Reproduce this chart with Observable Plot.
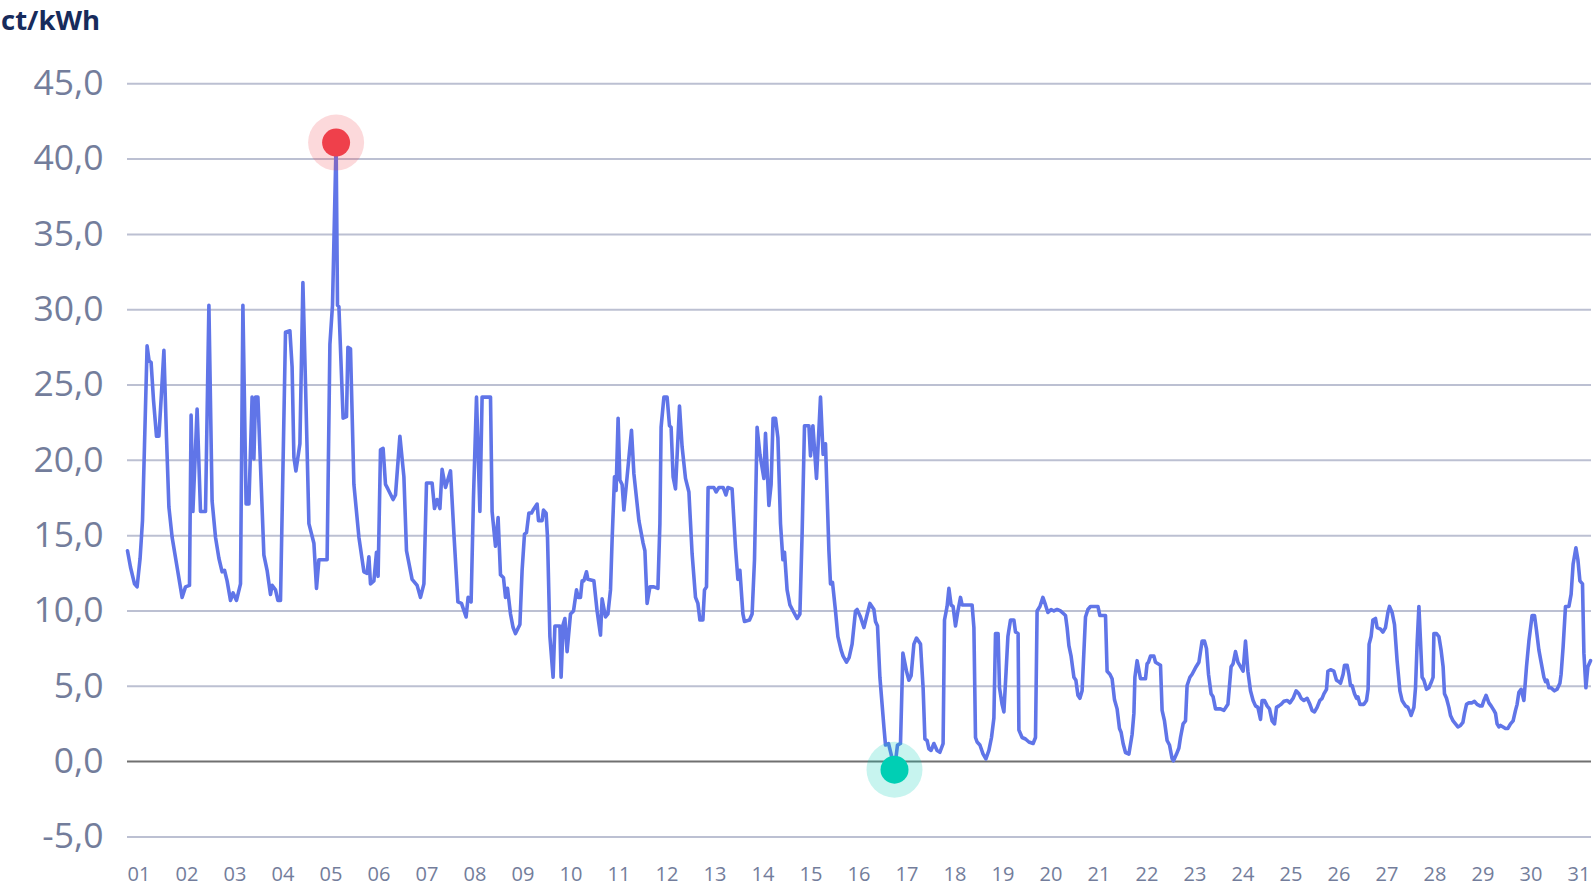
<!DOCTYPE html>
<html>
<head>
<meta charset="utf-8">
<script src="https://cdn.jsdelivr.net/npm/d3@7"></script>
<script src="https://cdn.jsdelivr.net/npm/@observablehq/plot@0.6"></script>
<style>
  html, body { margin: 0; padding: 0; background: #fff; overflow: hidden; }
  #title { height: 40px; line-height: 40px; padding-left: 1px; font-family: "Open Sans", sans-serif; font-weight: 700; font-size: 27.5px; color: #172b5c; }
  #chart svg { display: block; }
</style>
</head>
<body>
<div id="title">ct/kWh</div>
<div id="chart"></div>
<script>
// Hour offset since 01 00:00 and price in ct/kWh
const hours = [0,1.5,3.5,4.8,6.3,7.5,8.5,9.8,10.8,11.8,13,14.5,15.7,17,18.2,19.5,20.7,22.3,24.8,27.3,29,31,31.8,32.7,34.8,36.5,39,40.7,42.3,44,45.7,47.3,48.5,49.8,51.5,52.8,54.5,56.5,57.7,59.3,60.7,62.3,63.2,64,65.2,68.2,69.8,71.5,72.3,74,75.2,76.5,79,81.2,82.3,83.2,84.2,86.2,87.7,89,90.7,93.2,94.5,95.7,99.8,101.2,102.5,104.3,105,105.7,107.8,109.5,110.2,111.5,113.2,115.7,118.2,119.8,120.7,121.5,123.2,124.5,125.3,126.5,127.8,129,130.2,132.8,134,136.2,138.2,139.5,142.3,144.8,146.5,148.2,149.5,152.3,153.5,154.8,156.2,157.3,159,161.5,163.3,165.2,167,169.3,170.3,171.8,173,174.5,176.2,177.3,181.5,182.3,184,185.3,186.5,188,189,190,191.5,192.8,194,196.2,197.3,198.5,199.5,200.7,202,202.8,204.8,205.5,207.3,208,209.3,210,211.2,212.8,213.7,216.2,216.8,217.8,218.7,219.8,221.5,223,224.5,225.3,226.5,227.3,228.2,229.5,230.2,233.2,234.8,236.5,237.3,239,240.2,241.5,242.3,243.5,244.3,245.3,246.2,247.3,248.2,249.8,252,253.2,255.7,257.8,258.7,259.8,261.2,263.2,265.2,266.2,266.8,268.2,269.8,271,271.8,272.8,274,276,277.3,279,280.7,282.3,284,285.2,286.2,287.7,288.5,289.5,290.3,293.2,294.3,295.7,297.8,299.2,300.2,302.3,304,305.2,306.2,307.7,308.5,311,312.3,313.5,314.8,316.2,318.2,319,320.7,321.8,322.8,324,325.2,326.5,327.7,328.5,329.8,331.2,333.2,334.8,336.2,337.3,338.5,340.7,341.5,342.7,344.5,346.5,347.8,349,350.7,351.5,352.5,354,355.2,356.8,357.8,359.5,360.8,362.3,364,364.8,366.5,368.2,369.5,371.2,373.2,374,375,376.2,378.2,379,380.5,381.8,383.5,385,386.5,387.7,389.5,390.7,391.8,393.2,394.5,396.5,397.8,398.7,399.8,400.7,401.8,403.2,404.8,406.2,407.8,408.5,409.8,410.7,411.8,412.8,414,415.2,416.5,417.3,422.3,423.2,424,424.8,426.2,427.8,429.2,430.7,432,433.2,434,435.3,436,437.3,438.2,439.3,440.2,441.5,443.2,444,445.3,445.7,447.3,449,450.7,452.8,454,454.8,456.2,457.7,459,460.2,461.8,463.2,464.8,466.5,468.2,469,469.8,470.7,471.8,473.2,474.2,475.2,476.2,477.3,479,480.2,481.5,485.2,486.2,489,489.8,491.2,492.3,493.5,494.8,496,496.8,497.8,499,500.7,502.3,503.2,503.7,504.8,506.5,509,509.8,510.5,511.5,513.2,514,516.5,517.3,518.5,519.8,521,522.3,523,524.5,525.7,526.5,527.8,529,529.8,531.2,532.3,534.3,535.7,537.3,538.5,539.5,540.5,541.8,542.8,544,546.5,548.2,550.2,551.8,552.8,554,555.2,556.5,557.8,559,560.2,561.5,562.8,564,565.2,566.5,567.3,568.5,569.8,571,572.3,573.5,574.5,575.7,576.8,578.2,579.8,581.2,582.8,584.3,585.7,586.8,588.2,589.8,591.2,592.3,593.5,594.8,596.2,597.3,598.2,599.5,600.2,601.5,603.2,604.5,605.7,606.5,607.8,608.5,609.8,610.7,611.5,612.3,613.5,614.5,615.2,616.2,618.2,619.5,620.3,620.8,621.8,622.7,624,624.8,626.5,627.7,629,630.2,631,632.3,633.5,634.8,636.2,637.3,639,640.2,641.2,641.8,643.2,644,644.8,645.7,646.5,647.3,648.2,649.5,650.7,652,652.8,653.2,654.5,655.7,656.8,657.8,658.5,659.5,660.7,661.5,662.8,664,665.2,666.5,667.7,668.5,669.5,670.7,672.3,673.5,674.8,676.2,677.3,678.2,679.3,680.7,681.8,683.2,684,684.8,685.7,686.5,687.8,689,690.2,691.5,692.8,694,694.8,695.7,696.8,698.2,699.5,700.7,702.3,703.5,704.5,705.7,706.8,708.2,709,709.8,710.7,711.8,713.5,714.8,716.2,716.8,717.8,719,720.7,721.8,722.8,724.2,725.2,726.2,727.5,728.2,729.2,730.2,731.5];
const prices = [14.0,12.9,11.8,11.6,13.5,16.0,21.0,27.6,26.6,26.5,24.0,21.6,21.6,24.5,27.3,21.5,16.9,14.9,12.9,10.9,11.6,11.7,23.0,16.6,23.4,16.6,16.6,30.3,17.3,14.9,13.5,12.6,12.7,12.0,10.7,11.2,10.7,11.8,30.3,17.1,17.1,24.2,20.1,24.2,24.2,13.7,12.7,11.1,11.7,11.4,10.7,10.7,28.5,28.6,26.2,20.2,19.3,21.1,31.8,25.1,15.8,14.5,11.5,13.4,13.4,27.7,30.3,41.1,30.3,30.2,22.8,22.9,27.5,27.4,18.4,14.9,12.6,12.5,13.6,11.8,12.0,13.9,12.3,20.7,20.8,18.4,18.1,17.4,17.7,21.6,18.9,14.0,12.1,11.7,10.9,11.8,18.5,18.5,16.8,17.4,16.8,19.4,18.2,19.3,14.9,10.6,10.5,9.6,10.9,10.6,17.6,24.2,16.6,24.2,24.2,16.6,14.3,16.2,12.4,12.2,10.9,11.5,9.8,8.9,8.5,9.1,12.7,15.1,15.2,16.5,16.5,16.7,17.1,16.0,16.0,16.7,16.5,14.9,8.3,5.6,9.0,9.0,5.6,9.1,9.5,7.3,9.8,10.0,11.4,10.9,10.9,12.0,12.0,12.6,12.1,12.0,10.0,8.4,10.8,9.6,9.8,11.4,14.7,18.9,18.0,22.8,18.7,18.4,16.7,18.9,22.0,19.1,16.0,14.5,14.0,10.5,11.6,11.6,11.5,15.8,22.2,24.2,24.2,22.3,22.2,18.9,18.1,23.6,20.9,18.8,17.9,13.8,10.9,10.5,9.4,9.4,11.4,11.6,18.2,18.2,17.9,18.2,18.2,17.7,18.2,18.1,14.2,12.1,12.7,9.8,9.3,9.4,9.8,13.4,22.2,20.4,18.8,21.8,17.0,18.4,22.8,22.8,21.5,15.8,13.4,13.9,11.4,10.4,9.9,9.5,9.8,15.1,22.3,22.3,20.3,22.3,18.8,24.2,20.4,21.1,14.0,11.8,11.9,10.0,8.3,7.4,7.0,6.6,6.9,7.8,10.0,10.1,9.6,8.9,9.6,10.5,10.1,9.3,9.0,5.6,2.3,1.1,1.2,0.5,-0.54,1.1,1.2,7.2,6.0,5.4,5.7,7.8,8.2,7.8,4.9,1.5,1.4,0.85,0.74,1.2,0.74,0.62,1.2,9.4,10.3,11.5,10.4,10.3,9.0,10.0,10.9,10.4,10.4,8.9,1.6,1.3,1.1,0.5,0.18,0.74,1.6,2.9,8.5,8.5,4.9,3.8,3.3,6.0,8.3,9.4,9.4,8.6,8.5,2.1,1.6,1.5,1.3,1.2,1.6,10.0,10.3,10.9,10.4,9.9,10.1,10.0,10.1,10.0,9.8,9.7,8.9,7.7,7.0,5.6,5.4,4.4,4.2,4.7,9.6,10.1,10.3,10.3,9.7,9.7,6.0,5.8,5.5,4.1,3.5,2.2,1.95,1.2,0.6,0.5,1.8,3.2,5.6,6.7,5.5,5.5,6.5,6.6,7.0,7.0,6.6,6.4,3.4,2.7,1.4,1.1,0.2,0.05,0.5,0.9,1.6,2.5,2.7,5.05,5.6,5.8,6.3,6.6,8.0,8.0,7.5,5.8,4.5,4.3,3.5,3.5,3.4,3.8,6.3,6.5,7.3,6.6,6.3,6.0,8.0,6.0,4.7,4.06,3.7,3.6,2.8,4.06,4.06,3.7,3.5,2.7,2.5,3.6,3.7,3.8,4.0,4.06,3.9,4.2,4.7,4.5,4.2,4.06,4.2,3.8,3.4,3.3,3.6,4.06,4.2,4.5,4.8,6.0,6.1,6.0,5.4,5.3,5.2,5.8,6.4,6.4,5.8,5.05,5.05,4.5,4.2,4.3,3.8,3.8,4.06,4.8,7.8,8.3,9.4,9.5,8.9,8.8,8.6,8.9,9.9,10.3,9.9,9.1,6.7,4.7,4.06,3.7,3.6,3.3,3.06,3.6,4.9,7.8,10.3,8.0,5.6,5.4,4.8,4.9,5.3,5.6,8.5,8.5,8.3,7.4,6.3,4.5,4.2,3.6,3.06,2.7,2.5,2.3,2.4,2.6,3.2,3.8,3.9,3.9,4.0,3.8,3.7,3.7,4.06,4.4,3.9,3.7,3.4,3.2,2.5,2.3,2.4,2.3,2.2,2.2,2.5,2.7,3.4,3.8,4.6,4.8,4.06,6.3,8.0,9.7,9.7,8.7,7.4,6.6,5.6,5.3,5.4,4.9,4.9,4.7,4.8,5.2,5.8,7.6,10.3,10.3,11.1,13.1,14.2,13.4,12.0,11.8,7.2,4.9,6.3,6.7];
const dayLabels = ["01","02","03","04","05","06","07","08","09","10","11","12","13","14","15","16","17","18","19","20","21","22","23","24","25","26","27","28","29","30","31"];
const yTicks = [-5, 0, 5, 10, 15, 20, 25, 30, 35, 40, 45];

const data = hours.map((h, i) => ({h, v: prices[i]}));
const maxPt = d3.greatest(data, d => d.v);
const minPt = d3.least(data, d => d.v);
const dayTicks = dayLabels.map((_, i) => i * 24);
const fmt = d => d.toFixed(1).replace(".", ",");

const chart = Plot.plot({
  width: 1596,
  height: 848,
  marginLeft: 127,
  marginRight: 5,
  marginTop: 43.3,
  marginBottom: 51.6,
  style: {fontFamily: "'Open Sans', sans-serif", background: "#fff"},
  x: {domain: [0, 732]},
  y: {domain: [-5, 45]},
  marks: [
    Plot.ruleY(yTicks.filter(t => t !== 0), {stroke: "#bcc0d2", strokeWidth: 2}),
    Plot.ruleY([0], {stroke: "#707070", strokeWidth: 2}),
    Plot.axisY({ticks: yTicks, tickSize: 0, tickPadding: 24, tickFormat: fmt, fontSize: 35.5, color: "#737d9b", label: null}),
    Plot.axisX({ticks: dayTicks, tickSize: 0, tickPadding: 30, tickFormat: (d, i) => dayLabels[i], textAnchor: "start", fontSize: 20, color: "#737d9b", label: null}),
    Plot.line(data, {x: "h", y: "v", stroke: "#6075e8", strokeWidth: 3.6, strokeLinejoin: "round", strokeLinecap: "round"}),
    Plot.dot([maxPt], {x: "h", y: "v", r: 28, fill: "#ef404b", fillOpacity: 0.2, stroke: "none"}),
    Plot.dot([maxPt], {x: "h", y: "v", r: 14, fill: "#ef404b", stroke: "none"}),
    Plot.dot([minPt], {x: "h", y: "v", r: 28, fill: "#00cfb4", fillOpacity: 0.22, stroke: "none"}),
    Plot.dot([minPt], {x: "h", y: "v", r: 14, fill: "#00cfb4", stroke: "none"})
  ]
});
document.getElementById("chart").appendChild(chart);
</script>
</body>
</html>
